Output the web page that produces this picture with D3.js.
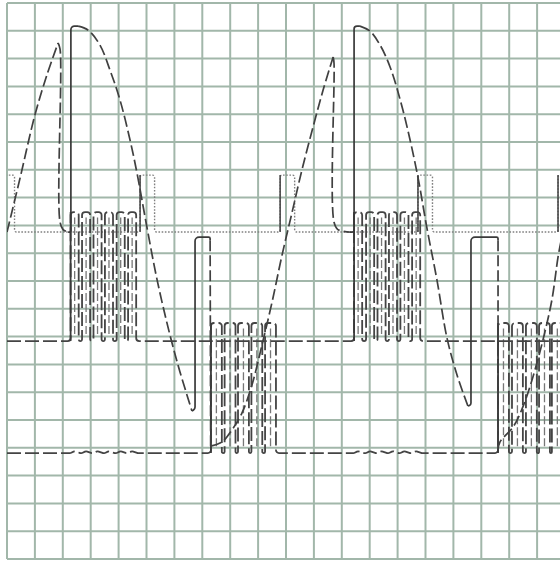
<!DOCTYPE html>
<html><head><meta charset="utf-8">
<script src="https://cdn.jsdelivr.net/npm/d3@7"></script>
<style>html,body{margin:0;padding:0;background:#fff;}svg{display:block;}</style>
</head><body>
<svg id="chart" width="560" height="566"></svg>
<script>
// ---------------- DATA (x: time divisions, y: divisions from bottom) ----------------
const gridCols = d3.range(0, 21);
const gridRows = d3.range(0, 21);

// main waveform, dashed portions
const waveRise1 = [[0,11.76],[0.47,13.71],[1.00,15.97],[1.43,17.41],[1.83,18.56]];
const waveDrop1 = [[1.83,18.56],[1.90,18.35],[1.90,12.12],[2.01,11.85],[2.19,11.76]];
const waveFall1 = [[2.55,19.17],[2.90,19.03],[3.33,18.49],[3.69,17.59],[4.05,16.51],[4.41,15.07],[4.66,13.88],[5.02,11.91],[5.38,10.04],[5.84,8.06],[6.20,6.73],[6.63,5.32]];
const waveEdge1 = [[7.28,11.47],[7.30,4.06]];
const waveRise2 = [[7.30,4.06],[7.71,4.21],[8.06,4.64],[8.42,5.25],[8.78,6.26],[9.14,7.70],[9.50,9.24],[9.86,10.94],[10.22,12.48],[10.57,13.99],[10.97,15.54],[11.33,16.87],[11.69,18.06]];
const waveDrop2 = [[11.69,18.06],[11.72,17.85],[11.72,12.12],[11.86,11.85],[12.29,11.76]];
const waveFall2 = [[12.65,19.17],[13.01,18.99],[13.37,18.49],[13.73,17.70],[14.19,16.15],[14.70,13.88],[15.05,11.91],[15.41,10.04],[15.77,7.95],[16.13,6.62],[16.52,5.50]];
const waveEdge2 = [[17.60,11.47],[17.60,3.92]];
const waveRise3 = [[17.60,3.92],[17.67,4.21],[18.14,4.75],[18.49,5.47],[18.85,6.55],[19.21,7.88],[19.53,9.32],[19.75,10.86],[19.85,11.40]];

// main waveform, solid portions
const waveStep1 = [[2.19,11.76],[2.29,11.76],[2.29,19.17],[2.55,19.17]];
const waveRect1 = [[6.63,5.32],[6.74,5.40],[6.74,11.58],[7.28,11.58],[7.28,11.47]];
const waveStep2 = [[12.29,11.76],[12.44,11.76],[12.44,19.17],[12.65,19.17]];
const waveRect2 = [[16.52,5.50],[16.63,5.55],[16.63,11.58],[17.60,11.58],[17.60,11.47]];

// trace A (dotted pulse train)
const traceALevels = [11.76, 13.81];
const traceAStarts = [-0.25, 4.77, 9.79, 14.73, 19.75];
const traceAWidth = 0.52;

// trace B (upper PWM bursts)
const traceBLevels = [7.84, 12.48];
const traceBStarts = [2.28, 2.69, 3.10, 3.51, 3.93, 4.34, 12.44, 12.87, 13.28, 13.69, 14.10, 14.52];
const traceBWidth = 0.29;

// trace C (lower PWM bursts)
const traceCLevels = [3.81, 8.49];
const traceCStarts = [7.31, 7.80, 8.28, 8.76, 9.25, 17.60, 18.10, 18.60, 19.07, 19.53];
const traceCWidth = 0.39;
const traceCRipple = 0.07;

// ---------------- SCALES ----------------
const svg = d3.select("#chart");
const x = d3.scaleLinear().domain([0, 20]).range([7, 7 + 27.9 * 20]);
const y = d3.scaleLinear().domain([0, 20]).range([559, 3]);

const P = pts => pts.map(([a, b]) => [x(a), y(b)]);

function roundedPath(pts, r) {
  const p = d3.path();
  p.moveTo(pts[0][0], pts[0][1]);
  for (let i = 1; i < pts.length - 1; i++) {
    const [x0, y0] = pts[i-1], [x1, y1] = pts[i], [x2, y2] = pts[i+1];
    const l1 = Math.hypot(x1-x0, y1-y0), l2 = Math.hypot(x2-x1, y2-y1);
    if (l1 < 1e-6 || l2 < 1e-6) { p.lineTo(x1, y1); continue; }
    const c = ((x1-x0)*(x2-x1) + (y1-y0)*(y2-y1)) / (l1*l2);
    const turn = Math.acos(Math.max(-1, Math.min(1, c)));
    if (turn < 1e-3) { p.lineTo(x1, y1); continue; }
    const t = Math.tan(turn/2);
    const rr = Math.min(r, Math.min(l1, l2) / 2 / t);
    p.arcTo(x1, y1, x2, y2, rr);
  }
  const last = pts[pts.length-1];
  p.lineTo(last[0], last[1]);
  return p.toString();
}

function pulseTrain(starts, width, lo, hi, bumps, bumpW) {
  const pts = [[0, lo]];
  const events = starts.map(s => ({s, type: "p"}));
  (bumps || []).forEach(s => events.push({s, type: "b"}));
  events.sort((a, b) => a.s - b.s);
  events.forEach(e => {
    if (e.type === "p") {
      pts.push([e.s, lo], [e.s, hi], [e.s + width, hi], [e.s + width, lo]);
    } else {
      pts.push([e.s, lo], [e.s + bumpW * 0.5, lo + traceCRipple], [e.s + bumpW + 0.05, lo]);
    }
  });
  pts.push([20.5, lo]);
  return pts;
}

// ---------------- GRID ----------------
svg.append("rect").attr("width", 560).attr("height", 566).attr("fill", "#fff");
const grid = svg.append("g").attr("stroke", "#a2b7aa").attr("stroke-width", 2);
grid.selectAll("line.v").data(gridCols).join("line")
  .attr("x1", d => x(d)).attr("x2", d => x(d)).attr("y1", y(20)).attr("y2", y(0));
grid.selectAll("line.h").data(gridRows).join("line")
  .attr("x1", x(0)).attr("x2", x(20)).attr("y1", d => y(d)).attr("y2", d => y(d));

svg.append("clipPath").attr("id", "clip").append("rect")
  .attr("x", x(0)).attr("y", y(20)).attr("width", 560 - x(0)).attr("height", y(0) - y(20));
const g = svg.append("g").attr("clip-path", "url(#clip)").attr("fill", "none")
  .attr("stroke-linejoin", "round").attr("stroke-linecap", "butt");

const smooth = d3.line().curve(d3.curveCatmullRom.alpha(0.5));

// ---- trace A (dotted) ----
const aPts = P(pulseTrain(traceAStarts, traceAWidth, traceALevels[0], traceALevels[1]));
g.append("path").attr("d", roundedPath(aPts, 2)).attr("stroke", "#808080")
  .attr("stroke-width", 1.4).attr("stroke-dasharray", "1.6,1.6");
g.selectAll("line.aedge").data(traceAStarts).join("line")
  .attr("x1", d => x(d)).attr("x2", d => x(d))
  .attr("y1", y(traceALevels[0])).attr("y2", y(traceALevels[1]))
  .attr("stroke", "#4a4a4a").attr("stroke-width", 1.6);

// inner hatch lines of PWM bursts
function hatch(starts, width, levels, color) {
  g.selectAll(null).data(starts).join("line")
    .attr("x1", d => x(d + width * 0.5)).attr("x2", d => x(d + width * 0.5))
    .attr("y1", y(levels[0] + 0.25)).attr("y2", y(levels[1] - 0.2))
    .attr("stroke", color).attr("stroke-width", 1.3).attr("stroke-dasharray", "8,3");
}
hatch(traceBStarts, traceBWidth, traceBLevels, "#777");
hatch(traceCStarts, traceCWidth, traceCLevels, "#777");

// ---- trace B (upper PWM) ----
const bPts = P(pulseTrain(traceBStarts, traceBWidth, traceBLevels[0], traceBLevels[1]));
g.append("path").attr("d", roundedPath(bPts, 3)).attr("stroke", "#444")
  .attr("stroke-width", 1.8).attr("stroke-dasharray", "14,4");

// ---- trace C (lower PWM) ----
const cPts = P(pulseTrain(traceCStarts, traceCWidth, traceCLevels[0], traceCLevels[1], traceBStarts, traceBWidth));
g.append("path").attr("d", roundedPath(cPts, 3)).attr("stroke", "#444")
  .attr("stroke-width", 1.8).attr("stroke-dasharray", "14,4");

// block leading edges (solid)
const blockEdges = [[traceBStarts[0], traceBLevels], [traceBStarts[6], traceBLevels],
                    [traceCStarts[0], traceCLevels], [traceCStarts[5], traceCLevels]];
g.selectAll("line.bedge").data(blockEdges).join("line")
  .attr("x1", d => x(d[0])).attr("x2", d => x(d[0]))
  .attr("y1", d => y(d[1][0])).attr("y2", d => y(d[1][1]))
  .attr("stroke", "#3a3a3a").attr("stroke-width", 1.8);

// ---- main waveform ----
[waveRise1, waveDrop1, waveFall1, waveEdge1, waveRise2, waveDrop2, waveFall2, waveEdge2, waveRise3]
  .forEach(seg => g.append("path").attr("d", smooth(P(seg))).attr("stroke", "#404040")
    .attr("stroke-width", 1.7).attr("stroke-dasharray", "11,4"));
[waveStep1, waveRect1, waveStep2, waveRect2]
  .forEach(seg => g.append("path").attr("d", roundedPath(P(seg), 4)).attr("stroke", "#3a3a3a")
    .attr("stroke-width", 1.7));
</script>
</body></html>
